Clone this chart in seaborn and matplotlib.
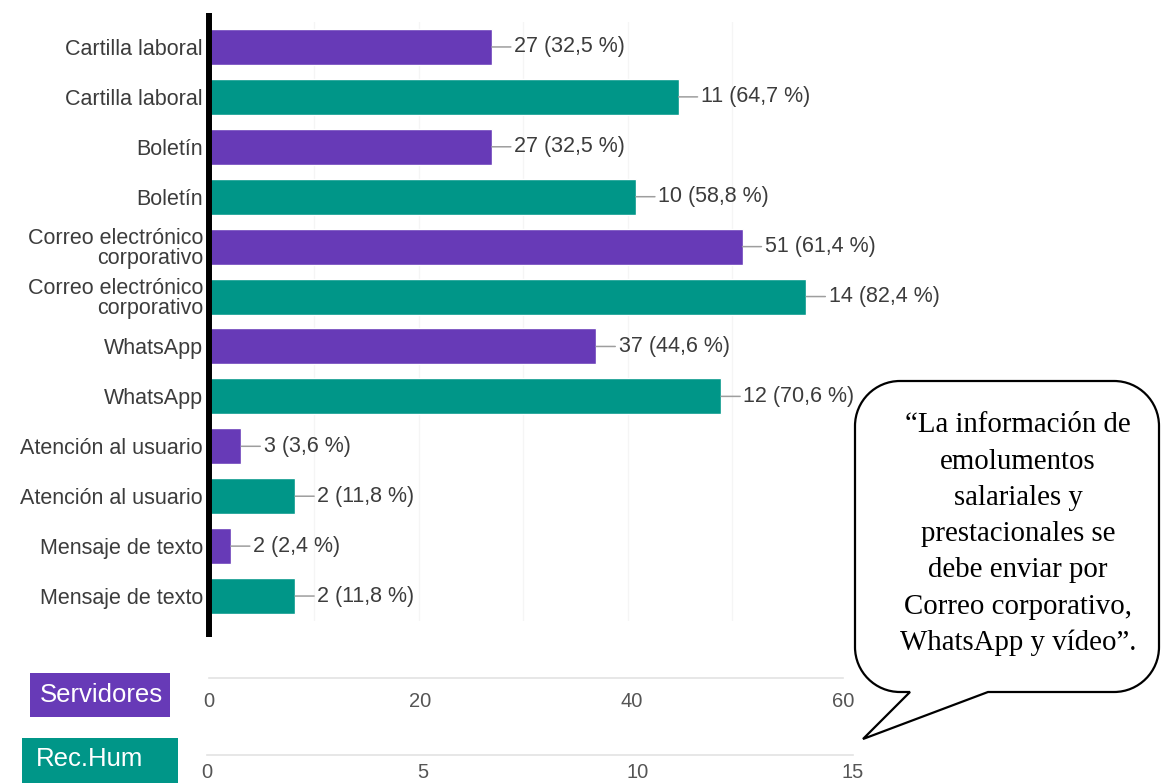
import matplotlib
matplotlib.use("Agg")
import matplotlib.pyplot as plt
import seaborn as sns
import pandas as pd
from matplotlib.path import Path
from matplotlib.patches import PathPatch, Rectangle
from matplotlib.lines import Line2D

# ---- data ----
canales = ["Cartilla laboral", "Boletín", "Correo electrónico\ncorporativo",
           "WhatsApp", "Atención al usuario", "Mensaje de texto"]
servidores = [27, 27, 51, 37, 3, 2]
servidores_pct = [32.5, 32.5, 61.4, 44.6, 3.6, 2.4]
rec_hum = [11, 10, 14, 12, 2, 2]
rec_hum_pct = [64.7, 58.8, 82.4, 70.6, 11.8, 11.8]
serv_ticks = [0, 20, 40, 60]
rec_ticks = [0, 5, 10, 15]
grupos = ["Servidores", "Rec.Hum"]
cita = ["“La información de", "emolumentos", "salariales y", "prestacionales se",
        "debe enviar por", "Correo corporativo,", "WhatsApp y vídeo”."]

PURPLE = "#673ab7"
TEAL = "#009688"
TXT = "#3c3c3c"

sns.set_theme(style="white")
plt.rcParams["font.family"] = ["Liberation Sans", "DejaVu Sans"]

W, H = 1162, 783
fig = plt.figure(figsize=(W / 100, H / 100), dpi=100)
fig.patch.set_facecolor("white")


def fx(x):
    return x / W


def fy(y):
    return 1 - y / H


def fmt(v, p):
    return f"{v} ({p:.1f} %)".replace(".", ",")


# each channel gets a Servidores row followed by a Rec.Hum row
keys = []
for c in canales:
    keys += [c + "|S", c + "|R"]
df_s = pd.DataFrame({"fila": [c + "|S" for c in canales], "valor": servidores})
df_r = pd.DataFrame({"fila": [c + "|R" for c in canales], "valor": rec_hum})

left, right, top, bottom = 210, 849, 22, 621
ax = fig.add_axes([fx(left), fy(bottom), (right - left) / W, (bottom - top) / H])
ax2 = ax.twiny()

sns.barplot(data=df_s, y="fila", x="valor", order=keys, color=PURPLE,
            width=0.72, saturation=1, ax=ax, orient="h")
sns.barplot(data=df_r, y="fila", x="valor", order=keys, color=TEAL,
            width=0.72, saturation=1, ax=ax2, orient="h")

ax.set_xlim(0, 61.2)
ax2.set_xlim(0, 15)
ax.set_ylim(len(keys) - 0.5, -0.5)

for a in (ax, ax2):
    for s in a.spines.values():
        s.set_visible(False)
    a.set_xlabel("")
    a.set_ylabel("")

ax.set_xticks([10, 20, 30, 40, 50])
ax.tick_params(axis="x", bottom=False, top=False, labelbottom=False, labeltop=False)
ax2.tick_params(axis="x", bottom=False, top=False, labelbottom=False, labeltop=False)
ax.grid(axis="x", color="#f5f5f5", lw=1)
ax.grid(axis="y", visible=False)
ax.set_axisbelow(True)

ax.set_yticks(range(len(keys)))
ax.set_yticklabels([c for c in canales for _ in (0, 1)], fontsize=15.5, color=TXT)
ax.tick_params(axis="y", length=0, pad=5)
for lab in ax.get_yticklabels():
    lab.set_linespacing(0.95)

arrow = dict(arrowstyle="-", color="#9e9e9e", lw=1.1, shrinkA=0, shrinkB=0, relpos=(0, 0.5))
for i, (v, p) in enumerate(zip(servidores, servidores_pct)):
    ax.annotate(fmt(v, p), xy=(v, 2 * i), xytext=(16, 0), textcoords="offset points",
                ha="left", va="center", fontsize=15.5, color=TXT, arrowprops=arrow)
for i, (v, p) in enumerate(zip(rec_hum, rec_hum_pct)):
    ax2.annotate(fmt(v, p), xy=(v, 2 * i + 1), xytext=(16, 0), textcoords="offset points",
                 ha="left", va="center", fontsize=15.5, color=TXT, arrowprops=arrow)

# thick black baseline
fig.add_artist(Line2D([fx(208.5)] * 2, [fy(13), fy(637)], color="black",
                      lw=4.3, solid_capstyle="butt"))


# ---- value scales at the bottom ----
def scale_axis(x0, x1, y, xmax, ticks, minor, pad):
    a = fig.add_axes([fx(x0), fy(y), (x1 - x0) / W, 0.0005])
    a.set_xlim(0, xmax)
    a.set_yticks([])
    for name, s in a.spines.items():
        s.set_visible(name == "bottom")
    a.spines["bottom"].set_color("#e3e3e3")
    a.spines["bottom"].set_linewidth(1.2)
    a.set_xticks(ticks)
    a.set_xticks(minor, minor=True)
    a.set_xticklabels([str(t) for t in ticks])
    a.tick_params(axis="x", which="both", direction="in", length=9, width=1,
                  color="#e6e6e6", labelsize=14.5, labelcolor="#555555", pad=pad)
    a.patch.set_visible(False)
    first = a.xaxis.get_major_ticks()[0]
    first.tick1line.set_color("#666666")
    first.tick1line.set_markersize(5)
    first.tick1line.set_markeredgewidth(2)
    return a


scale_axis(209, 843, 678, 60, serv_ticks, [10, 30, 50], 10)
scale_axis(207, 853, 755, 15, rec_ticks, [2.5, 7.5, 12.5], 5.5)

# group labels
fig.add_artist(Rectangle((fx(30), fy(717)), 140 / W, 44 / H, transform=fig.transFigure,
                         facecolor=PURPLE, edgecolor="none"))
fig.text(fx(101), fy(695), grupos[0], ha="center", va="center", fontsize=18.5, color="white")
fig.add_artist(Rectangle((fx(22), fy(783)), 156 / W, 45 / H, transform=fig.transFigure,
                         facecolor=TEAL, edgecolor="none"))
fig.text(fx(36), fy(759), grupos[1], ha="left", va="center", fontsize=18.5, color="white")

# ---- speech bubble ----
L, R, T, B, r = 855, 1159, 381, 692, 45
k = 0.5523
tail_a, tip, tail_b = (988, B), (863, 739), (910, B)
pts = [
    ((L + r, T), Path.MOVETO),
    ((R - r, T), Path.LINETO),
    ((R - r + r * k, T), Path.CURVE4), ((R, T + r - r * k), Path.CURVE4), ((R, T + r), Path.CURVE4),
    ((R, B - r), Path.LINETO),
    ((R, B - r + r * k), Path.CURVE4), ((R - r + r * k, B), Path.CURVE4), ((R - r, B), Path.CURVE4),
    (tail_a, Path.LINETO),
    (tip, Path.LINETO),
    (tail_b, Path.LINETO),
    ((L + r, B), Path.LINETO),
    ((L + r - r * k, B), Path.CURVE4), ((L, B - r + r * k), Path.CURVE4), ((L, B - r), Path.CURVE4),
    ((L, T + r), Path.LINETO),
    ((L, T + r - r * k), Path.CURVE4), ((L + r - r * k, T), Path.CURVE4), ((L + r, T), Path.CURVE4),
    ((L + r, T), Path.CLOSEPOLY),
]
verts = [(fx(x), fy(y)) for (x, y), _ in pts]
codes = [c for _, c in pts]
fig.add_artist(PathPatch(Path(verts, codes), transform=fig.transFigure,
                         facecolor="white", edgecolor="black", lw=1.6, zorder=5))

line_y = [425, 462, 498, 534, 570, 607, 643]
for txt, yy in zip(cita, line_y):
    fig.text(fx(1018), fy(yy), txt, ha="center", va="center", fontsize=20.8,
             family=["Liberation Serif", "DejaVu Serif"], color="black", zorder=6)

fig.savefig("out.png", dpi=100, facecolor="white")
